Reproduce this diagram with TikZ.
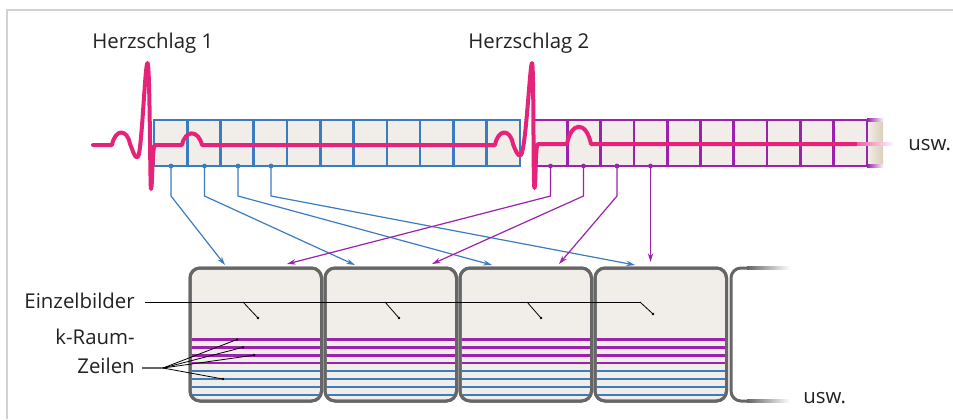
\documentclass[tikz,border=0pt]{standalone}
\usepackage{fontspec}
\setmainfont{Open Sans}
\usetikzlibrary{arrows.meta}
\definecolor{ecg}{HTML}{E5237A}
\definecolor{kblue}{HTML}{3B7CC0}
\definecolor{kpurple}{HTML}{9C22AE}
\definecolor{cellfill}{HTML}{F1EEE9}
\definecolor{boxline}{HTML}{666666}
\definecolor{framegray}{HTML}{D2D2D2}
\definecolor{tanfade}{HTML}{D9CFBB}
\definecolor{txt}{HTML}{222222}

\begin{document}
\begin{tikzpicture}[x=0.75pt,y=-0.75pt,
  lbl/.style={inner sep=0pt, text=txt, font=\fontsize{15.3}{18}\selectfont},
  ecgline/.style={draw=ecg, line width=3pt, line cap=round, line join=round},
  bgrid/.style={draw=kblue, line width=2pt},
  pgrid/.style={draw=kpurple, line width=2pt},
  bconn/.style={draw=kblue, line width=0.9pt, -{Stealth[length=6.5pt,width=4pt]}},
  pconn/.style={draw=kpurple, line width=0.9pt, -{Stealth[length=6.5pt,width=4pt]}},
  bdot/.style={fill=kblue, draw=none},
  pdot/.style={fill=kpurple, draw=none},
  framebox/.style={draw=boxline, fill=cellfill, line width=2.25pt, rounded corners=7.5pt,
    minimum width=131.5*0.75pt, minimum height=133*0.75pt, inner sep=0pt},
  leader/.style={draw=black, line width=0.6pt},
  ldot/.style={fill=black, draw=none}
]
\useasboundingbox (0,0) rectangle (953,419);

% light frame along top and left edge
\draw[framegray, line width=1.5pt] (7,419) -- (7,9.5) -- (953,9.5);

% ---------- labels ----------
\node[lbl, anchor=base west] (hs1) at (92,48) {Herzschlag 1};
\node[lbl, anchor=base west] (hs2) at (468,48) {Herzschlag 2};
\node[lbl, anchor=base west] (uswtop) at (908,150) {usw.};
\node[lbl, anchor=base west] (uswbot) at (803,403) {usw.};
\node[lbl, anchor=base east] (einz) at (135,308) {Einzelbilder};
\node[lbl, anchor=base east] (kraum) at (135,344) {k-Raum-};
\node[lbl, anchor=base east] (zeilen) at (135,373) {Zeilen};

% ---------- heartbeat 1 strip (blue) ----------
\fill[cellfill] (154,120) rectangle (520,166);
\foreach \k in {0,...,11} {
  \draw[bgrid] (154+33.27*\k,120) -- (154+33.27*\k,166);
}
\draw[bgrid] (154,120) rectangle (520,166);

% ---------- heartbeat 2 strip (purple), fading out to the right ----------
\fill[cellfill] (534,120) rectangle (867,166);
\shade[left color=cellfill, right color=tanfade] (867,120) rectangle (883,166);
\foreach \k in {0,...,10} {
  \draw[pgrid] (534+33.3*\k,120) -- (534+33.3*\k,166);
}
\draw[pgrid] (867,120) -- (534,120) -- (534,166) -- (867,166);
\shade[left color=kpurple, right color=white] (867,118.7) rectangle (884,121.3);
\shade[left color=kpurple, right color=white] (867,164.7) rectangle (884,167.3);

% ---------- ECG trace ----------
\draw[ecgline] (93,145) -- (112,145)
  .. controls (115,129) and (127,128) .. (130,144)
  .. controls (132,148) and (135,160) .. (138,157)
  .. controls (142,150) and (145,63) .. (147.5,63)
  .. controls (150,63) and (150,189) .. (151,189)
  .. controls (152.5,189) and (152,145) .. (155,145)
  -- (182,145)
  .. controls (185,130) and (198,129) .. (202,145)
  -- (495,145)
  .. controls (498,129) and (510,128) .. (513,144)
  .. controls (515,149) and (518,158) .. (521,155)
  .. controls (526,148) and (530,63) .. (532,63)
  .. controls (534,63) and (533,188) .. (534.5,188)
  .. controls (536,188) and (535,144) .. (538,144)
  -- (567,144)
  .. controls (571,122) and (586,120) .. (591,144)
  -- (857,144);
\shade[left color=ecg!70, right color=white] (857,142.5) rectangle (895,145.5);

% ---------- sampling points ----------
\coordinate (bd1) at (171,166);
\coordinate (bd2) at (204.5,166);
\coordinate (bd3) at (238,166);
\coordinate (bd4) at (271,166);
\coordinate (pd1) at (550.5,166);
\coordinate (pd2) at (583.5,166);
\coordinate (pd3) at (617,166);
\coordinate (pd4) at (650.5,166);

\coordinate (bt1) at (225,265);
\coordinate (bt2) at (355,265);
\coordinate (bt3) at (492,265);
\coordinate (bt4) at (635,265);
\coordinate (pt1) at (287,264);
\coordinate (pt2) at (432,264);
\coordinate (pt3) at (559,264);
\coordinate (pt4) at (650.5,262);

% ---------- image frames ----------
\foreach \i in {0,...,3} {
  \pgfmathsetmacro\xa{190+135*\i}
  \node[framebox] (box\i) at (\xa+65.75,334.5) {};
  \begin{scope}
    \clip[rounded corners=6.5pt] (\xa+1.5,269.5) rectangle (\xa+130,399.5);
    \foreach \yy in {339.5,347.3,355.2,363} {
      \draw[kpurple, line width=1.95pt] (\xa,\yy) -- (\xa+131.5,\yy);
    }
    \foreach \yy in {371,379,387,395} {
      \draw[kblue, line width=1.95pt] (\xa,\yy) -- (\xa+131.5,\yy);
    }
  \end{scope}
  \draw[boxline, line width=2.25pt, rounded corners=7.5pt] (\xa,268) rectangle (\xa+131.5,401);
}

% next frame, only begun
\draw[boxline, line width=2.25pt, rounded corners=7.5pt] (748,268) -- (731,268) -- (731,401) -- (748,401);
\shade[left color=boxline, right color=white] (747,266.5) rectangle (790,269.5);
\shade[left color=boxline, right color=white] (747,399.5) rectangle (790,402.5);

% ---------- connectors from sampling points to the frames ----------
\foreach \n in {1,...,4} {
  \draw[bconn] (bd\n) -- ++(0,30) -- (bt\n);
}
\foreach \n in {1,...,3} {
  \draw[pconn] (pd\n) -- ++(0,30) -- (pt\n);
}
\draw[pconn] (pd4) -- (pt4);
\foreach \n in {1,...,4} {
  \fill[bdot] (bd\n) circle (1.8pt);
  \fill[pdot] (pd\n) circle (1.8pt);
}

% ---------- leader lines ----------
\coordinate (e0) at (145,302);
\coordinate (eend) at (640,302);
\coordinate (ea1) at (243,302);  \coordinate (eb1) at (258,318);
\coordinate (ea2) at (385,302);  \coordinate (eb2) at (399,318);
\coordinate (ea3) at (527,302);  \coordinate (eb3) at (541,318);
\coordinate (ea4) at (640,302);  \coordinate (eb4) at (653,314);
\draw[leader] (e0) -- (eend);
\foreach \n in {1,...,4} {
  \draw[leader] (ea\n) -- (eb\n);
  \fill[ldot] (eb\n) circle (1.1pt);
}

\coordinate (z0) at (142,368);
\coordinate (z1) at (163,368);
\coordinate (zk1) at (237,339.5);
\coordinate (zk2) at (243,347.3);
\coordinate (zk3) at (254,355.2);
\coordinate (zk4) at (223,379);
\draw[boxline, line width=1.3pt] (z0) -- (z1);
\foreach \n in {1,...,4} {
  \draw[leader] (z1) -- (zk\n);
  \fill[ldot] (zk\n) circle (1.1pt);
}
\end{tikzpicture}
\end{document}
